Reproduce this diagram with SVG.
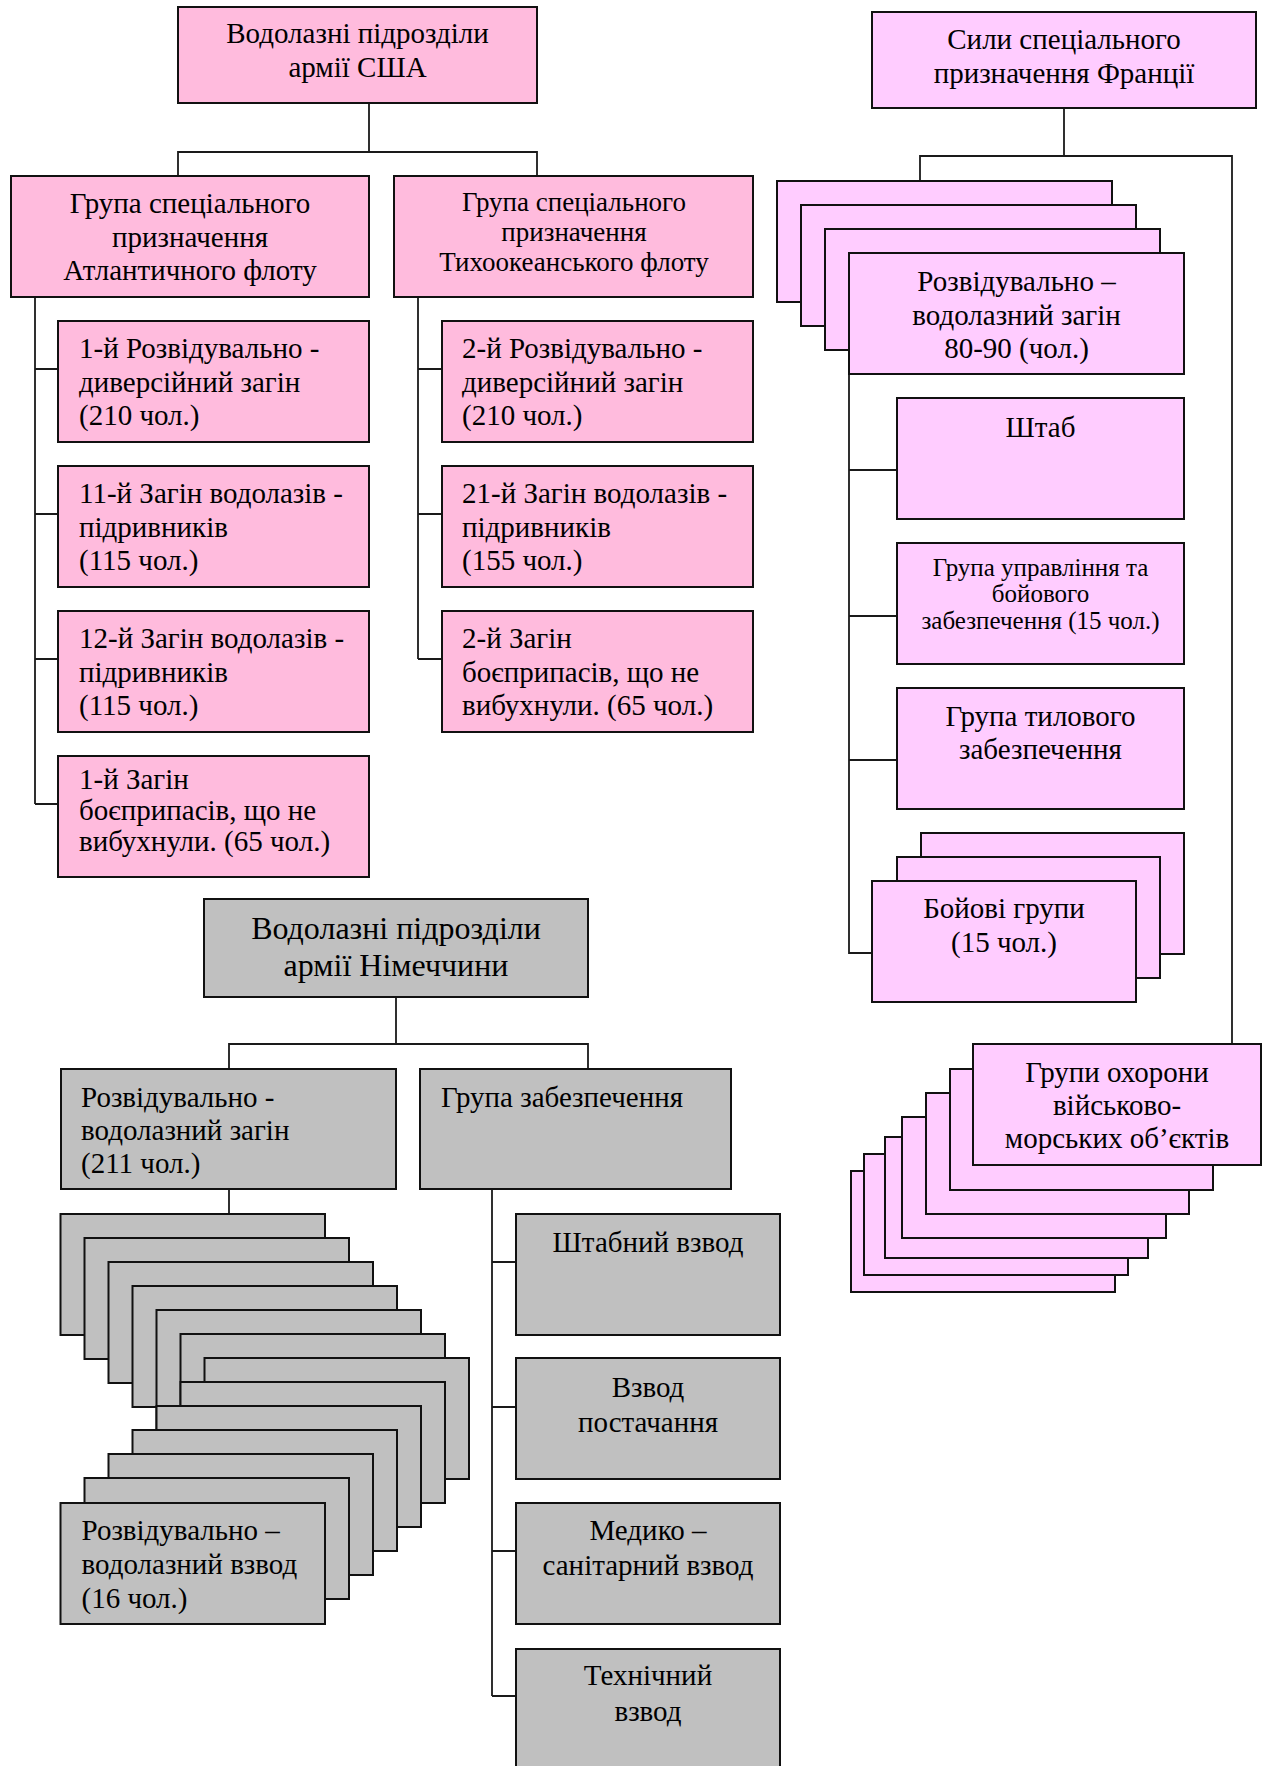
<svg xmlns="http://www.w3.org/2000/svg" width="1265" height="1766" viewBox="0 0 1265 1766">
<style>
rect{stroke:#111;stroke-width:2}
.u{fill:#FFBBDD}
.f{fill:#FFCCFF}
.d{fill:#C0C0C0}
text{font-family:"Liberation Serif","Times New Roman",serif;font-size:29px;fill:#000}
.c{text-anchor:middle}
.s27{font-size:27px}
.s25{font-size:25px}
.s32{font-size:32px}
#connectors path{fill:none;stroke:#1a1a1a;stroke-width:1.8}
</style>
<rect x="0" y="0" width="1265" height="1766" fill="#fff" style="stroke:none"/>
<g id="connectors">
<path d="M369 103V152M178 176V152H537V176"/>
<path d="M35 297V804M35 369H58M35 514H58M35 659H58M35 804H58"/>
<path d="M418 297V659M418 369H442M418 514H442M418 659H442"/>
<path d="M1064 108V156M920 181V156H1232V1044"/>
<path d="M849 374V953H872M849 470H897M849 616H897M849 760H897"/>
<path d="M396 997V1044M229 1069V1044H588V1069"/>
<path d="M229 1189V1214"/>
<path d="M492 1189V1696M492 1262H516M492 1407H516M492 1551H516M492 1696H516"/>
</g>
<g id="usa-root"><rect class="u" x="178" y="7" width="359" height="96"/><text class="c" x="357.5" y="43">Водолазні підрозділи</text><text class="c" x="357.5" y="77">армії США</text></g>
<g id="usa-atl"><rect class="u" x="11" y="176" width="358" height="121"/><text class="c" x="190" y="213">Група спеціального</text><text class="c" x="190" y="247">призначення</text><text class="c" x="190" y="280">Атлантичного флоту</text></g>
<g id="usa-pac"><rect class="u" x="394" y="176" width="359" height="121"/><text class="c s27" x="574" y="211">Група спеціального</text><text class="c s27" x="574" y="241">призначення</text><text class="c s27" x="574" y="271">Тихоокеанського флоту</text></g>
<g id="usa-a1"><rect class="u" x="58" y="321" width="311" height="121"/><text x="79" y="358">1-й Розвідувально -</text><text x="79" y="392">диверсійний загін</text><text x="79" y="425">(210 чол.)</text></g>
<g id="usa-a2"><rect class="u" x="58" y="466" width="311" height="121"/><text x="79" y="503">11-й Загін водолазів -</text><text x="79" y="537">підривників</text><text x="79" y="570">(115 чол.)</text></g>
<g id="usa-a3"><rect class="u" x="58" y="611" width="311" height="121"/><text x="79" y="648">12-й Загін водолазів -</text><text x="79" y="682">підривників</text><text x="79" y="715">(115 чол.)</text></g>
<g id="usa-a4"><rect class="u" x="58" y="756" width="311" height="121"/><text x="79" y="789">1-й Загін</text><text x="79" y="820">боєприпасів, що не</text><text x="79" y="851">вибухнули. (65 чол.)</text></g>
<g id="usa-p1"><rect class="u" x="442" y="321" width="311" height="121"/><text x="462" y="358">2-й Розвідувально -</text><text x="462" y="392">диверсійний загін</text><text x="462" y="425">(210 чол.)</text></g>
<g id="usa-p2"><rect class="u" x="442" y="466" width="311" height="121"/><text x="462" y="503">21-й Загін водолазів -</text><text x="462" y="537">підривників</text><text x="462" y="570">(155 чол.)</text></g>
<g id="usa-p3"><rect class="u" x="442" y="611" width="311" height="121"/><text x="462" y="648">2-й Загін</text><text x="462" y="682">боєприпасів, що не</text><text x="462" y="715">вибухнули. (65 чол.)</text></g>
<g id="fr-root"><rect class="f" x="872" y="12" width="384" height="96"/><text class="c" x="1064" y="49">Сили спеціального</text><text class="c" x="1064" y="83">призначення Франції</text></g>
<g id="fr-detach"><rect class="f" x="777" y="181" width="335" height="121"/><rect class="f" x="801" y="205" width="335" height="121"/><rect class="f" x="825" y="229" width="335" height="121"/><rect class="f" x="849" y="253" width="335" height="121"/><text class="c" x="1016.5" y="291">Розвідувально –</text><text class="c" x="1016.5" y="325">водолазний загін</text><text class="c" x="1016.5" y="358">80-90 (чол.)</text></g>
<g id="fr-hq"><rect class="f" x="897" y="398" width="287" height="121"/><text class="c" x="1040.5" y="437">Штаб</text></g>
<g id="fr-ctrl"><rect class="f" x="897" y="543" width="287" height="121"/><text class="c s25" x="1040.5" y="576">Група управління та</text><text class="c s25" x="1040.5" y="602">бойового</text><text class="c s25" x="1040.5" y="629">забезпечення (15 чол.)</text></g>
<g id="fr-rear"><rect class="f" x="897" y="688" width="287" height="121"/><text class="c" x="1040.5" y="726">Група тилового</text><text class="c" x="1040.5" y="759">забезпечення</text></g>
<g id="fr-combat"><rect class="f" x="921" y="833" width="263" height="121"/><rect class="f" x="897" y="857" width="263" height="121"/><rect class="f" x="872" y="881" width="264" height="121"/><text class="c" x="1004" y="918">Бойові групи</text><text class="c" x="1004" y="952">(15 чол.)</text></g>
<g id="fr-guard"><rect class="f" x="851" y="1171" width="264" height="121"/><rect class="f" x="864" y="1154" width="264" height="121"/><rect class="f" x="885" y="1137" width="263" height="121"/><rect class="f" x="902" y="1117" width="264" height="121"/><rect class="f" x="926" y="1093" width="263" height="121"/><rect class="f" x="950" y="1069" width="263" height="121"/><rect class="f" x="973" y="1044" width="288" height="121"/><text class="c" x="1117" y="1082">Групи охорони</text><text class="c" x="1117" y="1115">військово-</text><text class="c" x="1117" y="1148">морських об’єктів</text></g>
<g id="de-root"><rect class="d" x="204" y="899" width="384" height="98"/><text class="c s32" x="396" y="939">Водолазні підрозділи</text><text class="c s32" x="396" y="976">армії Німеччини</text></g>
<g id="de-detach"><rect class="d" x="61" y="1069" width="335" height="120"/><text x="81" y="1107">Розвідувально -</text><text x="81" y="1140">водолазний загін</text><text x="81" y="1173">(211 чол.)</text></g>
<g id="de-support"><rect class="d" x="420" y="1069" width="311" height="120"/><text x="441" y="1107">Група забезпечення</text></g>
<g id="de-platoons">
<rect class="d" x="60.5" y="1214" width="264.5" height="121"/>
<rect class="d" x="84.5" y="1238" width="264.5" height="121"/>
<rect class="d" x="108.5" y="1262" width="264.5" height="121"/>
<rect class="d" x="132.5" y="1286" width="264.5" height="121"/>
<rect class="d" x="156.5" y="1310" width="264.5" height="121"/>
<rect class="d" x="180.5" y="1334" width="264.5" height="121"/>
<rect class="d" x="204.5" y="1358" width="264.5" height="121"/>
<rect class="d" x="180.5" y="1382" width="264.5" height="121"/>
<rect class="d" x="156.5" y="1406" width="264.5" height="121"/>
<rect class="d" x="132.5" y="1430" width="264.5" height="121"/>
<rect class="d" x="108.5" y="1454" width="264.5" height="121"/>
<rect class="d" x="84.5" y="1478" width="264.5" height="121"/>
<rect class="d" x="60.5" y="1503" width="264.5" height="121"/>
<text x="81.5" y="1540">Розвідувально –</text><text x="81.5" y="1574">водолазний взвод</text><text x="81.5" y="1608">(16 чол.)</text>
</g>
<g id="de-hq"><rect class="d" x="516" y="1214" width="264" height="121"/><text class="c" x="648" y="1252">Штабний взвод</text></g>
<g id="de-supply"><rect class="d" x="516" y="1358" width="264" height="121"/><text class="c" x="648" y="1397">Взвод</text><text class="c" x="648" y="1432">постачання</text></g>
<g id="de-med"><rect class="d" x="516" y="1503" width="264" height="121"/><text class="c" x="648" y="1540">Медико –</text><text class="c" x="648" y="1575">санітарний взвод</text></g>
<g id="de-tech"><rect class="d" x="516" y="1649" width="264" height="125"/><text class="c" x="648" y="1685">Технічний</text><text class="c" x="648" y="1721">взвод</text></g>
</svg>
